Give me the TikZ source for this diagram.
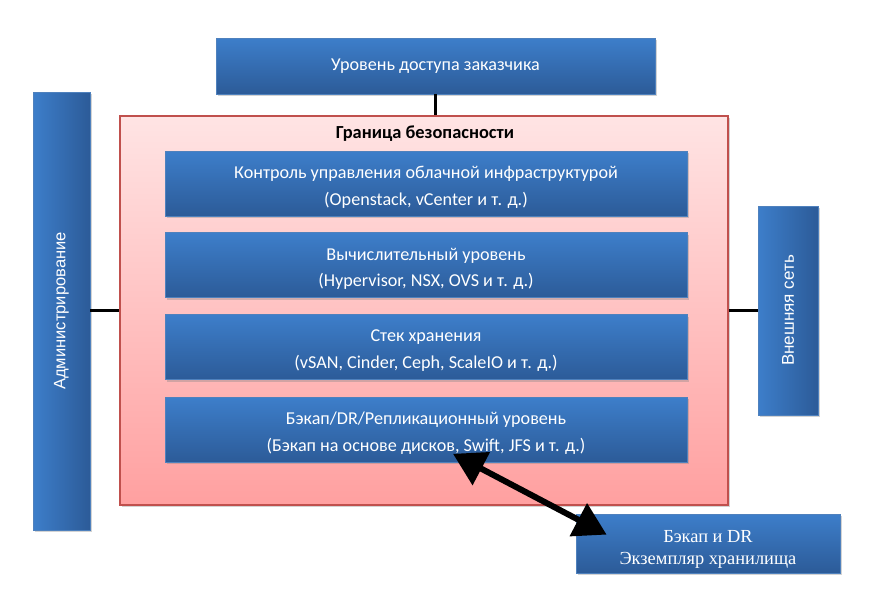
\documentclass[tikz,border=0pt]{standalone}
\usepackage{graphicx}
\usepackage{fontspec}
\setmainfont{Carlito}
\newfontfamily\admfont{Liberation Sans}
\newfontfamily\dkfont{Liberation Serif}
\usetikzlibrary{arrows.meta,calc,positioning,shadows}

\definecolor{bluetop}{RGB}{61,126,202}
\definecolor{bluebot}{RGB}{44,91,152}
\definecolor{blueline}{RGB}{79,129,189}
\definecolor{pinktop}{RGB}{255,228,228}
\definecolor{pinkbot}{RGB}{255,160,160}
\definecolor{bordred}{RGB}{192,80,77}

\newcommand{\lift}{\rule{0pt}{14.5pt}}

\begin{document}
\begin{tikzpicture}[x=0.75pt,y=-0.75pt,>=Stealth]
  % one unit = one pixel of the 874x603 sheet, y grows downwards
  \tikzset{
    shade/.style  = {drop shadow={shadow xshift=1.2pt, shadow yshift=-1.5pt, opacity=0.35}},
    layer/.style  = {rectangle, draw=blueline, line width=0.6pt, shade,
                     top color=bluetop, bottom color=bluebot,
                     text=white, align=center, inner sep=0pt,
                     font=\fontsize{13.6}{20}\selectfont},
    side/.style   = {layer, left color=bluetop, right color=bluebot,
                     font=\admfont\fontsize{12.4}{14}\selectfont},
    wide/.style   = {layer, minimum width=522*0.75pt, minimum height=65*0.75pt},
    wire/.style   = {line width=2pt, black},
    bigarrow/.style = {line width=4.5pt, black,
                       {Triangle[length=24pt,width=27pt]}-{Triangle[length=24pt,width=27pt]}}
  }
  \useasboundingbox (0,0) rectangle (874,603);

  % security boundary
  \node[rectangle, draw=bordred, line width=1.2pt, shade,
        top color=pinktop, bottom color=pinkbot,
        minimum width=608*0.75pt, minimum height=389*0.75pt] (bound) at (424,310.5) {};
  \node[font=\bfseries\fontsize{13.8}{16}\selectfont] (boundtitle) at (425,134) {Граница безопасности};

  % customer access
  \node[layer, minimum width=439*0.75pt, minimum height=56*0.75pt] (access) at (435.5,66)
       {Уровень доступа заказчика};

  % the four layers inside the boundary
  \node[wide] (cloud) at (426,183.5) {\lift Контроль управления облачной инфраструктурой\\(Openstack, vCenter и т. д.)};
  \node[wide, below=16*0.75pt of cloud] (compute) {\lift Вычислительный уровень\\(Hypervisor, NSX, OVS и т. д.)};
  \node[wide, below=16*0.75pt of compute] (storage) {\lift Стек хранения\\(vSAN, Cinder, Ceph, ScaleIO и т. д.)};
  \node[wide, below=17*0.75pt of storage] (repl) {\lift Бэкап/DR/Репликационный уровень\\(Бэкап на основе дисков, Swift, JFS и т. д.)};

  % side boxes
  \node[side, minimum width=57*0.75pt, minimum height=438*0.75pt] (admin) at (61.5,311)
       {\rotatebox{90}{Администрирование}};
  \node[side, minimum width=60*0.75pt, minimum height=209*0.75pt,
        font=\admfont\fontsize{12.8}{14}\selectfont] (extnet) at (788,310.5)
       {\rotatebox{90}{Внешняя сеть}};

  % backup and DR storage
  \node[layer, minimum width=264*0.75pt, minimum height=59*0.75pt,
        font=\dkfont\fontsize{13.8}{17}\selectfont] (vault) at (708,543.5)
       {\rule{0pt}{18pt}Бэкап и DR\\Экземпляр хранилища};

  % connectors
  \draw[wire] (access.south) -- (access.south |- bound.north);
  \draw[wire] (admin.east |- bound.west) -- (bound.west);
  \draw[wire] (bound.east) -- (bound.east -| extnet.west);

  \coordinate (replend) at ($(repl.south)+(27,-9)$);
  \coordinate (vaultend) at ($(vault.north west)+(31,21)$);
  \draw[bigarrow] (replend) -- (vaultend);
\end{tikzpicture}
\end{document}
